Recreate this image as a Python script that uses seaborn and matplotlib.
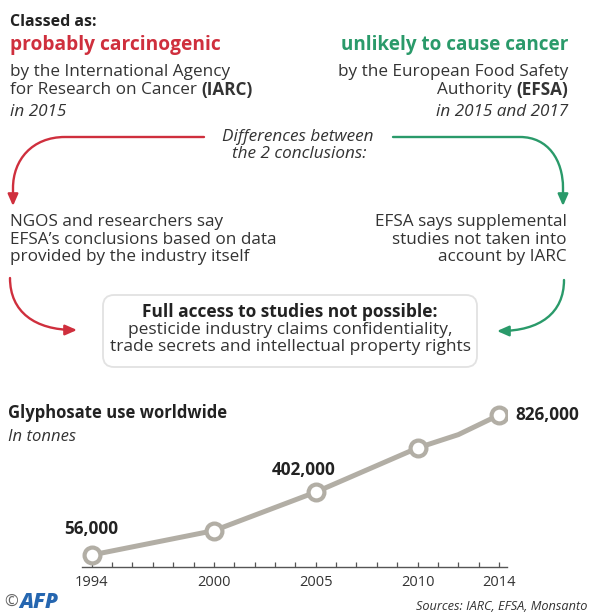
import matplotlib
matplotlib.use("Agg")
import matplotlib.pyplot as plt
import numpy as np
import pandas as pd
import seaborn as sns
from matplotlib.patches import FancyArrowPatch, FancyBboxPatch
from matplotlib.path import Path
from matplotlib.ticker import FixedLocator

# --- data -----------------------------------------------------------------
YEARS = [1994, 2000, 2005, 2010, 2012, 2014]
TONNES = [56000, 190000, 402000, 645000, 718000, 826000]
MARKED_YEARS = [1994, 2000, 2005, 2010, 2014]
TICK_YEARS = [1994, 2000, 2005, 2010, 2014]
LABEL_YEARS = [1994, 2005, 2014]
LABEL_TEXTS = ["56,000", "402,000", "826,000"]

RED = "#cf2f3d"
GREEN = "#2a9a6a"
INK = "#333333"
DARK = "#222222"
LINE_GREY = "#b2aea5"

W, H = 589, 615
BODY = 12.3


def draw_runs(ax, x, y, runs, ha="left", size=BODY, color=INK, style="normal"):
    """Draw a line made of (text, weight) pieces; x is left or right edge in px."""
    renderer = ax.figure.canvas.get_renderer()
    texts = []
    for txt, weight in runs:
        t = ax.text(0, y, txt, fontsize=size, fontweight=weight, color=color,
                    fontstyle=style, ha="left", va="center")
        texts.append(t)
    widths = [t.get_window_extent(renderer).width for t in texts]
    start = x if ha == "left" else x - sum(widths)
    for t, w in zip(texts, widths):
        t.set_x(start)
        start += w


def arrow(ax, verts, codes, color):
    p = FancyArrowPatch(path=Path(verts, codes), arrowstyle="-|>,head_length=0.5,head_width=0.22",
                        mutation_scale=14, color=color, lw=1.7, transform=ax.transData)
    ax.add_patch(p)


def main() -> None:
    sns.set_theme(style="white")
    plt.rcParams["font.family"] = ["Open Sans", "DejaVu Sans"]

    fig = plt.figure(figsize=(W / 100, H / 100), dpi=100)
    fig.patch.set_facecolor("white")

    # overlay in pixel coordinates (y down)
    ov = fig.add_axes([0, 0, 1, 1])
    ov.set_xlim(0, W)
    ov.set_ylim(H, 0)
    ov.axis("off")
    fig.canvas.draw()

    # header left
    ov.text(10, 22, "Classed as:", fontsize=11.5, fontweight="bold", color=DARK, va="center")
    ov.text(10, 45, "probably carcinogenic", fontsize=13.8, fontweight="bold", color=RED, va="center")
    draw_runs(ov, 10, 72, [("by the International Agency", "normal")])
    draw_runs(ov, 10, 90, [("for Research on Cancer ", "normal"), ("(IARC)", "bold")])
    draw_runs(ov, 10, 112, [("in 2015", "normal")], style="italic")

    # header right
    ov.text(568, 45, "unlikely to cause cancer", fontsize=13.6, fontweight="bold", color=GREEN,
            va="center", ha="right")
    draw_runs(ov, 568, 72, [("by the European Food Safety", "normal")], ha="right")
    draw_runs(ov, 568, 90, [("Authority ", "normal"), ("(EFSA)", "bold")], ha="right")
    draw_runs(ov, 568, 112, [("in 2015 and 2017", "normal")], ha="right", style="italic")

    # differences
    ov.text(298, 137, "Differences between", fontsize=12.3, fontstyle="italic", color=INK,
            ha="center", va="center")
    ov.text(299, 154, "the 2 conclusions:", fontsize=12.3, fontstyle="italic", color=INK,
            ha="center", va="center")

    M, L, C = Path.MOVETO, Path.LINETO, Path.CURVE4
    arrow(ov, [(204, 137), (65, 137), (32, 137), (13, 160), (13, 188), (13, 206)],
          [M, L, C, C, C, L], RED)
    arrow(ov, [(393, 137), (520, 137), (548, 137), (563, 160), (563, 188), (563, 206)],
          [M, L, C, C, C, L], GREEN)

    # second row of texts
    for i, line in enumerate(["NGOS and researchers say",
                              "EFSA\u2019s conclusions based on data",
                              "provided by the industry itself"]):
        ov.text(10, 222 + 17.5 * i, line, fontsize=BODY, color=INK, va="center")
    for i, line in enumerate(["EFSA says supplemental",
                              "studies not taken into",
                              "account by IARC"]):
        ov.text(567, 222 + 17.5 * i, line, fontsize=BODY, color=INK, va="center", ha="right")

    arrow(ov, [(10, 278), (10, 312), (35, 330), (77, 330)], [M, C, C, C], RED)
    arrow(ov, [(564, 280), (564, 313), (540, 331), (497, 331)], [M, C, C, C], GREEN)

    box = FancyBboxPatch((103, 295), 374, 72, boxstyle="round,pad=0,rounding_size=11",
                         facecolor="white", edgecolor="#e2e2e2", lw=1.3)
    ov.add_patch(box)
    ov.text(290, 312, "Full access to studies not possible:", fontsize=12.5, fontweight="bold",
            color=DARK, ha="center", va="center")
    ov.text(290, 330, "pesticide industry claims confidentiality,", fontsize=12.5, color=INK,
            ha="center", va="center")
    ov.text(290, 347, "trade secrets and intellectual property rights", fontsize=12.5, color=INK,
            ha="center", va="center")

    # chart titles
    ov.text(8, 413, "Glyphosate use worldwide", fontsize=12, fontweight="bold", color=DARK,
            va="center")
    ov.text(8, 437, "In tonnes", fontsize=12, fontstyle="italic", color=INK, va="center")

    # footer
    ov.text(4, 603, "\u00a9", fontsize=12, color="#666666", va="center")
    ov.text(19, 602, "AFP", fontsize=15, fontweight="heavy", fontstyle="italic", color="#2566b0",
            va="center")
    ov.text(587, 607, "Sources: IARC, EFSA, Monsanto", fontsize=9.2, fontstyle="italic",
            color=INK, va="center", ha="right")

    # --- line chart -------------------------------------------------------
    left_px, right_px, top_px, base_px = 81.7, 507, 400, 566.7
    ax = fig.add_axes([left_px / W, 1 - base_px / H, (right_px - left_px) / W,
                       (base_px - top_px) / H])
    ax.patch.set_alpha(0)

    df = pd.DataFrame({"year": YEARS, "tonnes": TONNES})
    marked = df[df["year"].isin(MARKED_YEARS)]
    sns.lineplot(data=df, x="year", y="tonnes", color=LINE_GREY, lw=3.6, ax=ax,
                 solid_capstyle="round", zorder=2)
    sns.scatterplot(data=marked, x="year", y="tonnes", s=130, facecolor="white",
                    edgecolor=LINE_GREY, linewidth=3, ax=ax, zorder=3)

    for yr, txt in zip(LABEL_YEARS, LABEL_TEXTS):
        val = TONNES[YEARS.index(yr)]
        if yr == LABEL_YEARS[-1]:
            ax.annotate(txt, (yr, val), xytext=(12, 0), textcoords="offset points",
                        ha="left", va="center", fontsize=12.3, fontweight="bold", color=DARK)
        elif yr == LABEL_YEARS[0]:
            ax.annotate(txt, (yr, val), xytext=(0, 19), textcoords="offset points",
                        ha="center", va="center", fontsize=12.3, fontweight="bold", color=DARK)
        else:
            ax.annotate(txt, (yr, val), xytext=(-9, 16), textcoords="offset points",
                        ha="center", va="center", fontsize=12.3, fontweight="bold", color=DARK)

    ax.set_xlim(1993.51, 2014.39)
    ax.set_ylim(-8350, 908500)
    ax.set_xticks(TICK_YEARS)
    ax.set_xticklabels([str(y) for y in TICK_YEARS])
    ax.xaxis.set_minor_locator(FixedLocator(list(range(1994, 2015))))
    ax.tick_params(axis="x", which="both", direction="in", length=3.5, width=0.9,
                   color="#555555", labelsize=10.5, labelcolor=INK, pad=6, bottom=True)
    ax.set_yticks([])
    ax.set_xlabel("")
    ax.set_ylabel("")
    for side in ["top", "left", "right"]:
        ax.spines[side].set_visible(False)
    ax.spines["bottom"].set_color("#555555")
    ax.spines["bottom"].set_linewidth(1)

    fig.savefig("out.png", dpi=100, facecolor="white")
    plt.close(fig)


if __name__ == "__main__":
    main()
